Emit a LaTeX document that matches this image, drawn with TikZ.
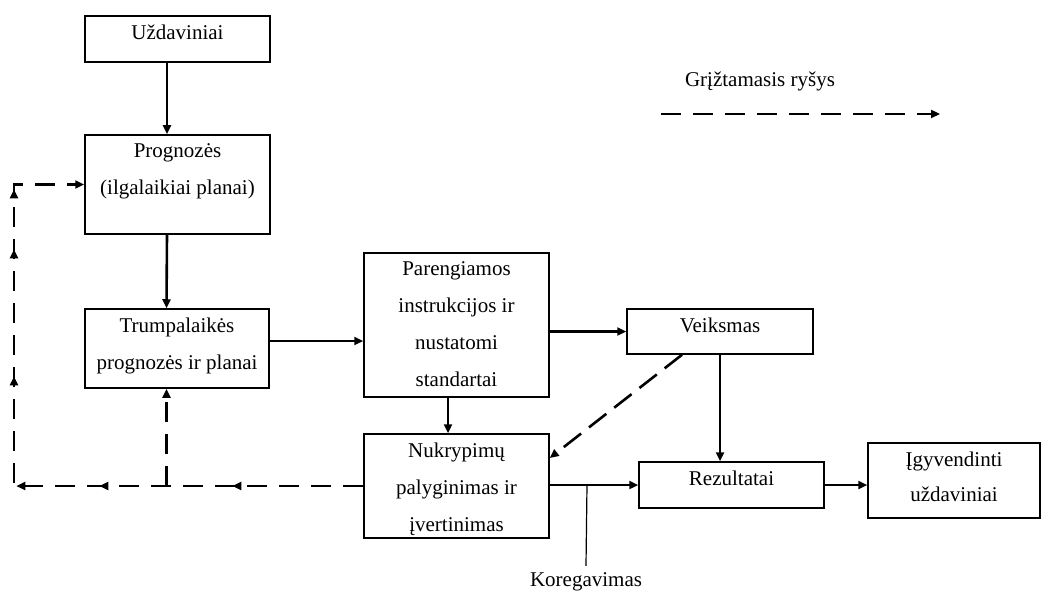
\documentclass[tikz,border=0pt]{standalone}
\usepackage{fontspec}
\setmainfont{Liberation Serif}
\usetikzlibrary{arrows.meta,decorations.markings}
\begin{document}
\begin{tikzpicture}[x=1pt,y=-1pt,
  box/.style={draw, line width=1.5pt, inner sep=0pt},
  lbl/.style={anchor=north, align=center, inner sep=0pt, yshift=-9pt,
              font=\fontsize{21}{37}\selectfont},
  plain/.style={inner sep=0pt, font=\fontsize{21}{37}\selectfont},
  tip/.style={-{Triangle[length=9pt,width=8pt]}},
  flow/.style={line width=2.6pt, tip},
  fb/.style={line width=2.6pt, dash pattern=on 20pt off 12pt},
  fbmark/.style={postaction={decorate}, decoration={markings,
      mark=at position 131pt with {\arrow{Triangle[length=9pt,width=8pt]}},
      mark=at position 264pt with {\arrow{Triangle[length=9pt,width=8pt]}},
      mark=at position 347pt with {\arrow{Triangle[length=9pt,width=8pt]}},
      mark=at position 459pt with {\arrow{Triangle[length=9pt,width=8pt]}},
      mark=at position 586pt with {\arrow{Triangle[length=9pt,width=8pt]}},
      mark=at position 646pt with {\arrow{Triangle[length=9pt,width=8pt]}}}}]

\useasboundingbox (0,0) rectangle (1042,591);

% boxes
\node[box, minimum width=185pt, minimum height=46pt]  (uzd)   at (177.5,39)  {};
\node[box, minimum width=185pt, minimum height=99pt]  (prog)  at (177.5,184.5) {};
\node[box, minimum width=184pt, minimum height=79pt]  (trump) at (177,348.5) {};
\node[box, minimum width=185pt, minimum height=144pt] (par)   at (456.5,325) {};
\node[box, minimum width=185pt, minimum height=104pt] (nuk)   at (456.5,486) {};
\node[box, minimum width=186pt, minimum height=45pt]  (vei)   at (720,331.5) {};
\node[box, minimum width=185pt, minimum height=46pt]  (rez)   at (731.5,485) {};
\node[box, minimum width=172pt, minimum height=75pt]  (igy)   at (954,480.5) {};

% box texts
\node[lbl] (tuzd)   at (uzd.north)   {Uždaviniai};
\node[lbl] (tprog)  at (prog.north)  {Prognozės\\(ilgalaikiai planai)};
\node[lbl] (ttrump) at (trump.north) {Trumpalaikės\\prognozės ir planai};
\node[lbl] (tpar)   at (par.north)   {Parengiamos\\instrukcijos ir\\nustatomi\\standartai};
\node[lbl] (tnuk)   at (nuk.north)   {Nukrypimų\\palyginimas ir\\įvertinimas};
\node[lbl] (tvei)   at (vei.north)   {Veiksmas};
\node[lbl] (trez)   at (rez.north)   {Rezultatai};
\node[lbl, font=\fontsize{21}{35}\selectfont] (tigy) at (igy.north) {Įgyvendinti\\uždaviniai};

% legend
\node[plain] (leg) at (760,81) {Grįžtamasis ryšys};
\coordinate (la) at (661,114);
\coordinate (lb) at (940,114);
\draw[fb, tip] (la) -- (lb);

% main flow
\draw[flow] ([xshift=-10.5pt]uzd.south) -- ([xshift=-10.5pt]prog.north);
\draw[flow] ([xshift=-10.5pt]prog.south) -- ([xshift=-10.5pt]trump.north);
\draw[flow] ([yshift=7.5pt]trump.east) -- ([yshift=7.5pt]trump.east -| par.west);
\draw[flow] (par.east |- vei.west) -- (vei.west);
\draw[flow] ([xshift=-8.5pt]par.south) -- ([xshift=-8.5pt]nuk.north);
\draw[flow] (vei.south) -- (vei.south |- rez.north);
\draw[flow] (nuk.east |- rez.west) -- (rez.west);
\draw[flow] (rez.east) -- (rez.east -| igy.west);

% correction line
\node[plain, anchor=base] (kor) at (586,586) {Koregavimas};
\coordinate (kj) at (587,485);
\draw[line width=1.2pt] (kj) -- ([yshift=6pt]kor.north);

% feedback loops
\coordinate (cbl) at (14,486);
\coordinate (ctl) at (cbl |- prog.west);
\draw[fb, tip, fbmark] (nuk.west) -- (cbl) -- (ctl) -- (prog.west);
\coordinate (jb) at (166.5,486);
\draw[fb, tip] (jb) -- (jb |- trump.south);
\draw[fb, dash pattern=on 22pt off 10pt, tip] ([xshift=-38pt]vei.south) -- ([yshift=28pt]nuk.east);

\end{tikzpicture}
\end{document}
